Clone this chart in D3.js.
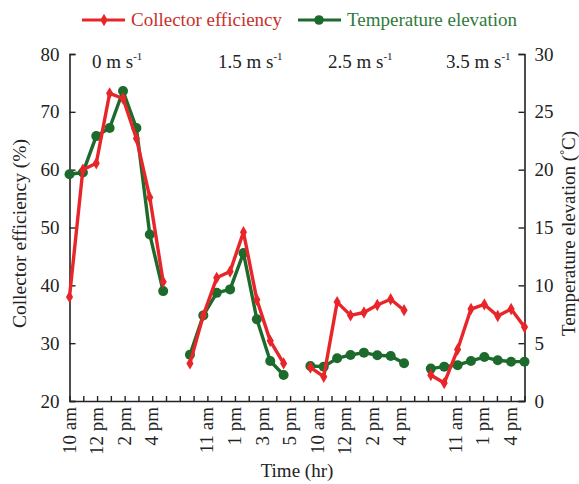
<!DOCTYPE html>
<html>
<head>
<meta charset="utf-8">
<script src="https://cdn.jsdelivr.net/npm/d3@7"></script>
<style>
  html, body { margin: 0; padding: 0; background: #fff; }
  svg { display: block; font-family: "Liberation Serif", "Times New Roman", serif; }
</style>
</head>
<body>
<svg id="chart" width="579" height="484"></svg>
<script>
// Wind speed groups and their label positions along the time axis
const speedLabels = ["0 m s", "1.5 m s", "2.5 m s", "3.5 m s"];
const speedLabelX = [92, 218, 328, 446];

// Each group holds eight hourly readings; slots 8, 17 and 26 are gaps between groups
const groupSlots = [
  [0, 1, 2, 3, 4, 5, 6, 7],
  [9, 10, 11, 12, 13, 14, 15, 16],
  [18, 19, 20, 21, 22, 23, 24, 25],
  [27, 28, 29, 30, 31, 32, 33, 34]
];

// Collector efficiency (%)
const efficiency = [
  [38.0, 60.0, 61.1, 73.2, 72.3, 65.4, 55.2, 40.6],
  [26.5, 34.8, 41.3, 42.4, 49.2, 37.5, 30.4, 26.5],
  [25.8, 24.2, 37.1, 34.8, 35.3, 36.6, 37.6, 35.7],
  [24.5, 23.1, 28.9, 35.9, 36.7, 34.7, 35.9, 32.8]
];

// Temperature elevation (°C)
const tempElevation = [
  [19.6, 19.75, 22.9, 23.6, 26.8, 23.6, 14.4, 9.5],
  [4.0, 7.4, 9.35, 9.65, 12.8, 7.07, 3.46, 2.25],
  [3.03, 2.97, 3.69, 3.98, 4.18, 3.95, 3.89, 3.26],
  [2.8, 2.97, 3.1, 3.46, 3.8, 3.52, 3.4, 3.4]
];

// Time axis: 34 tick marks, labelled every other hour within each group
const tickCount = 34;
const timeTickLabels = {
  0: "10 am", 2: "12 pm", 4: "2 pm", 6: "4 pm",
  10: "11 am", 12: "1 pm", 14: "3 pm", 16: "5 pm",
  18: "10 am", 20: "12 pm", 22: "2 pm", 24: "4 pm",
  28: "11 am", 30: "1 pm", 32: "4 pm"
};

const leftTicks = [20, 30, 40, 50, 60, 70, 80];
const rightTicks = [0, 5, 10, 15, 20, 25, 30];

const RED = "#e8262a";
const GREEN = "#1c6b2c";

const svg = d3.select("#chart");
const plot = { left: 69.5, right: 524.5, top: 54, bottom: 401 };

const xData = d3.scaleLinear().domain([0, 34]).range([plot.left, plot.right]);
const xTick = d3.scaleLinear().domain([0, tickCount - 1]).range([plot.left, plot.right]);
const yLeft = d3.scaleLinear().domain([20, 80]).range([plot.bottom, plot.top]);
const yRight = d3.scaleLinear().domain([0, 30]).range([plot.bottom, plot.top]);

const tickFont = "19px";

// Left axis
const leftAxis = svg.append("g")
  .attr("transform", `translate(${plot.left},0)`)
  .call(d3.axisLeft(yLeft).tickValues(leftTicks).tickSizeInner(-6).tickSizeOuter(-6).tickPadding(10));
// Right axis
const rightAxis = svg.append("g")
  .attr("transform", `translate(${plot.right},0)`)
  .call(d3.axisRight(yRight).tickValues(rightTicks).tickSizeInner(-6).tickSizeOuter(-6).tickPadding(10));
// Bottom axis
const bottomAxis = svg.append("g")
  .attr("transform", `translate(0,${plot.bottom})`)
  .call(d3.axisBottom(xTick).tickValues(d3.range(tickCount)).tickSizeInner(-5).tickSizeOuter(0).tickFormat(() => ""));

[leftAxis, rightAxis, bottomAxis].forEach(g => {
  g.select(".domain").attr("stroke", "#222").attr("stroke-width", 1.6);
  g.selectAll(".tick line").attr("stroke", "#222").attr("stroke-width", 1.4);
  g.selectAll("text").attr("font-family", "Liberation Serif").attr("font-size", tickFont).attr("fill", "#222");
});

// Rotated time labels
svg.append("g").selectAll("text")
  .data(Object.entries(timeTickLabels))
  .join("text")
  .attr("transform", d => `translate(${xTick(+d[0]) + 6},${plot.bottom + 6}) rotate(-90)`)
  .attr("text-anchor", "end")
  .attr("font-size", tickFont)
  .attr("fill", "#222")
  .text(d => d[1]);

// Axis titles
svg.append("text")
  .attr("transform", `translate(26,${(plot.top + plot.bottom) / 2 + 6}) rotate(-90)`)
  .attr("text-anchor", "middle")
  .attr("font-size", "19.5px")
  .attr("fill", "#222")
  .text("Collector efficiency (%)");

const rt = svg.append("text")
  .attr("transform", `translate(575,${(plot.top + plot.bottom) / 2 + 6}) rotate(-90)`)
  .attr("text-anchor", "middle")
  .attr("font-size", "19px")
  .attr("fill", "#222");
rt.append("tspan").text("Temperature elevation (");
rt.append("tspan").attr("font-size", "12px").attr("dy", -7).text("°");
rt.append("tspan").attr("dy", 7).text("C)");

svg.append("text")
  .attr("x", (plot.left + plot.right) / 2)
  .attr("y", 477)
  .attr("text-anchor", "middle")
  .attr("font-size", "19px")
  .attr("fill", "#222")
  .text("Time (hr)");

// Wind speed labels
speedLabels.forEach((s, i) => {
  const t = svg.append("text")
    .attr("x", speedLabelX[i])
    .attr("y", 68)
    .attr("font-size", "19px")
    .attr("fill", "#222");
  t.append("tspan").text(s);
  t.append("tspan").attr("font-size", "11px").attr("dy", -8).text("-1");
});

// Series
const line = d3.line().x(d => xData(d.x)).y(d => d.y);

function drawTemp() {
  groupSlots.forEach((slots, g) => {
    const pts = slots.map((s, i) => ({ x: s, y: yRight(tempElevation[g][i]) }));
    svg.append("path").attr("d", line(pts))
      .attr("fill", "none").attr("stroke", GREEN).attr("stroke-width", 3.4).attr("stroke-linejoin", "round");
    svg.append("g").selectAll("circle").data(pts).join("circle")
      .attr("cx", d => xData(d.x)).attr("cy", d => d.y).attr("r", 5).attr("fill", GREEN);
  });
}

const diamond = d3.symbol().type(d3.symbolDiamond).size(44);

function drawEff() {
  groupSlots.forEach((slots, g) => {
    const pts = slots.map((s, i) => ({ x: s, y: yLeft(efficiency[g][i]) }));
    svg.append("path").attr("d", line(pts))
      .attr("fill", "none").attr("stroke", RED).attr("stroke-width", 3.4).attr("stroke-linejoin", "round");
    svg.append("g").selectAll("path").data(pts).join("path")
      .attr("d", diamond)
      .attr("transform", d => `translate(${xData(d.x)},${d.y})`)
      .attr("fill", RED);
  });
}

drawTemp();
drawEff();

// Legend
const legend = svg.append("g");
legend.append("line").attr("x1", 82).attr("x2", 125).attr("y1", 20).attr("y2", 20)
  .attr("stroke", RED).attr("stroke-width", 3.2);
legend.append("path").attr("d", diamond).attr("transform", "translate(104,20)").attr("fill", RED);
legend.append("text").attr("x", 131).attr("y", 26).attr("font-size", "19px").attr("fill", "#c9302c")
  .text("Collector efficiency");

legend.append("line").attr("x1", 298).attr("x2", 341).attr("y1", 20).attr("y2", 20)
  .attr("stroke", GREEN).attr("stroke-width", 3.2);
legend.append("circle").attr("cx", 319).attr("cy", 20).attr("r", 4.8).attr("fill", GREEN);
legend.append("text").attr("x", 347).attr("y", 26).attr("font-size", "19px").attr("fill", "#2f7a3a")
  .text("Temperature elevation");
</script>
</body>
</html>
